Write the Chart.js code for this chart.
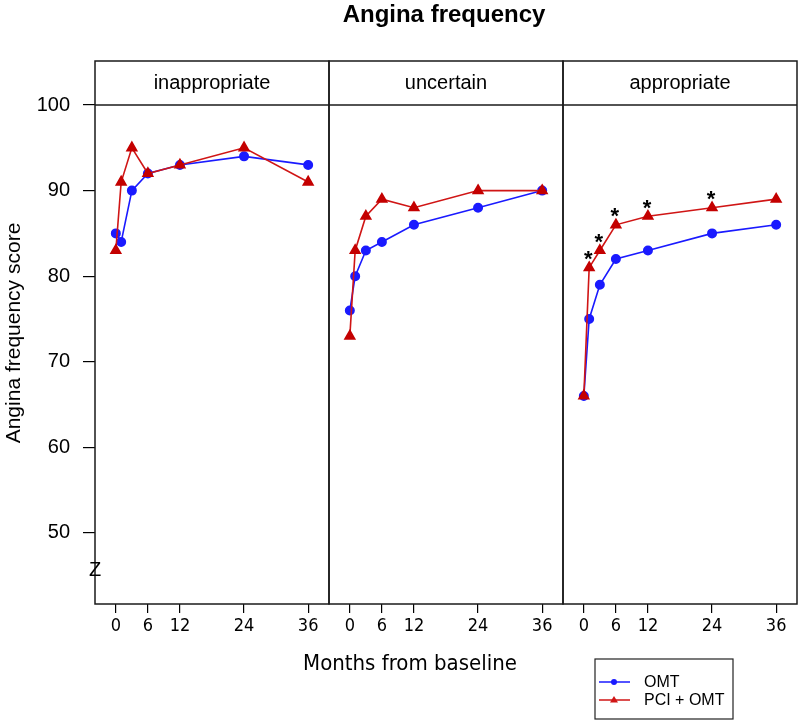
<!DOCTYPE html>
<html><head><meta charset="utf-8">
<script src="https://cdn.jsdelivr.net/npm/chart.js@4.4.1/dist/chart.umd.min.js"></script>
<style>
body{margin:0;background:#fff;}
#wrap{position:relative;width:800px;height:720px;overflow:hidden;background:#fff;font-family:'Liberation Sans',Arial,sans-serif;color:#000}
canvas{position:absolute;top:0}
.t{position:absolute;white-space:nowrap;text-align:center;z-index:5}
</style></head><body><div id="wrap">
<canvas id="c1" width="339" height="720" style="left:0;width:339px;height:720px"></canvas>
<canvas id="c2" width="254" height="720" style="left:319px;width:254px;height:720px"></canvas>
<canvas id="c3" width="257" height="720" style="left:553px;width:257px;height:720px"></canvas>
<div class="t" id="title" style="left:244px;top:1px;width:400px;line-height:26px;font-size:24px;font-weight:bold;">Angina frequency</div>
<div class="t" id="xtitle" style="left:210px;top:651px;width:400px;line-height:24px;font-size:22px;font-family:'Liberation Sans Narrow','Arial Narrow','DejaVu Sans Condensed',sans-serif;">Months from baseline</div>
<div class="t" id="ytitle" style="left:-137px;top:322px;width:300px;line-height:22px;font-size:21px;transform:rotate(-90deg);">Angina frequency score</div>
<div class="t" id="zmark" style="left:85px;top:558px;width:20px;line-height:22px;font-size:20px;">Z</div>
</div>
<script>
// ---- data ----
const months = [0, 1, 3, 6, 12, 24, 36];
const panelNames = ['inappropriate', 'uncertain', 'appropriate'];
const seriesNames = ['OMT', 'PCI + OMT'];
const omtInappropriate = [85, 84, 90, 92, 93, 94, 93];
const pciInappropriate = [83, 91, 95, 92, 93, 95, 91];
const omtUncertain     = [76, 80, 83, 84, 86, 88, 90];
const pciUncertain     = [73, 83, 87, 89, 88, 90, 90];
const omtAppropriate   = [66, 75, 79, 82, 83, 85, 86];
const pciAppropriate   = [66, 81, 83, 86, 87, 88, 89];
const starMonthsAppropriate = [1, 3, 6, 12, 24];
const xTicks = [0, 6, 12, 24, 36];
const yTicks = [50, 60, 70, 80, 90, 100];

// ---- styling ----
const NARROW = "'Liberation Sans Narrow','Arial Narrow','DejaVu Sans Condensed',sans-serif";
const SANS = "'Liberation Sans',Arial,sans-serif";
const BLUE = '#1a1aff', RED = '#d01515', RED_PT = '#c40000';
const STRIP_TOP = 61;

const panelPlugin = {
  id: 'panelFrame',
  afterDraw(chart, args, o) {
    const ctx = chart.ctx, ca = chart.chartArea;
    ctx.save();
    ctx.strokeStyle = '#1a1a1a';
    ctx.lineWidth = 1.5;
    ctx.strokeRect(ca.left, STRIP_TOP, ca.right - ca.left, ca.bottom - STRIP_TOP);
    ctx.beginPath(); ctx.moveTo(ca.left, ca.top); ctx.lineTo(ca.right, ca.top); ctx.stroke();
    ctx.fillStyle = '#000';
    ctx.font = '20px ' + SANS;
    ctx.textAlign = 'center'; ctx.textBaseline = 'middle';
    ctx.fillText(o.label, (ca.left + ca.right) / 2, (STRIP_TOP + ca.top) / 2);
    if (o.stars) {
      const xs = chart.scales.x, ys = chart.scales.y;
      ctx.font = 'bold 22px ' + SANS;
      ctx.textBaseline = 'alphabetic';
      o.stars.months.forEach(m => {
        const i = months.indexOf(m);
        const px = xs.getPixelForValue(m) - 1;
        const py = ys.getPixelForValue(o.stars.values[i]) - 14;
        ctx.fillText('*', px, py + 12.5);
      });
    }
    if (o.legend) {
      const off = chart.canvas.offsetLeft;
      const L = 595 - off, R = 733 - off, T = 659, B = 719;
      ctx.lineWidth = 1.2; ctx.strokeStyle = '#222';
      ctx.strokeRect(L, T, R - L, B - T);
      const rows = [{y: 682, c: BLUE, shape: 'circle'}, {y: 700, c: RED, shape: 'tri'}];
      ctx.font = '16px ' + SANS; ctx.textAlign = 'left'; ctx.textBaseline = 'middle';
      rows.forEach((r, k) => {
        ctx.strokeStyle = r.c; ctx.lineWidth = 1.5;
        ctx.beginPath(); ctx.moveTo(599 - off, r.y); ctx.lineTo(630 - off, r.y); ctx.stroke();
        ctx.fillStyle = r.c;
        ctx.beginPath();
        if (r.shape === 'circle') { ctx.arc(614 - off, r.y, 3, 0, Math.PI * 2); }
        else { ctx.moveTo(614 - off, r.y - 4); ctx.lineTo(618 - off, r.y + 2.5); ctx.lineTo(610 - off, r.y + 2.5); ctx.closePath(); }
        ctx.fill();
        ctx.fillStyle = '#000';
        ctx.fillText(seriesNames[k], 644 - off, r.y + 1);
      });
    }
    ctx.restore();
  }
};

function makePanel(id, name, omt, pci, cfg) {
  const pts = arr => months.map((m, i) => ({x: m, y: arr[i]}));
  return new Chart(document.getElementById(id), {
    type: 'line',
    data: {
      datasets: [
        {label: seriesNames[0], data: pts(omt), borderColor: BLUE, backgroundColor: BLUE,
         pointBackgroundColor: BLUE, pointBorderColor: BLUE, pointStyle: 'circle', pointRadius: 4.2,
         borderWidth: 1.6, tension: 0, order: 2, clip: false},
        {label: seriesNames[1], data: pts(pci), borderColor: RED, backgroundColor: RED_PT,
         pointBackgroundColor: RED_PT, pointBorderColor: RED_PT, pointStyle: 'triangle', pointRadius: 5.6,
         borderWidth: 1.6, tension: 0, order: 1, clip: false}
      ]
    },
    options: {
      responsive: false, animation: false, devicePixelRatio: 1,
      layout: {padding: {top: 105, bottom: 0, left: cfg.padL, right: cfg.padR}},
      plugins: {
        legend: {display: false}, tooltip: {enabled: false},
        panelFrame: {label: name, stars: cfg.stars || null, legend: !!cfg.legend}
      },
      scales: {
        x: {
          type: 'linear', min: -3.9, max: 39.9,
          afterBuildTicks: s => { s.ticks = xTicks.map(v => ({value: v})); },
          afterFit: s => { s.height = 116; },
          grid: {drawOnChartArea: false, drawTicks: true, tickLength: 9, color: '#000', lineWidth: 1.2},
          border: {display: false},
          ticks: {font: {family: NARROW, size: 18}, color: '#000', padding: 3, maxRotation: 0, autoSkip: false}
        },
        y: {
          display: cfg.showY, min: 41.7, max: 100,
          afterBuildTicks: s => { s.ticks = yTicks.map(v => ({value: v})); },
          afterFit: s => { if (cfg.showY) s.width = 95; },
          grid: {drawOnChartArea: false, drawTicks: true, tickLength: 12, color: '#000', lineWidth: 1.2},
          border: {display: false},
          ticks: {font: {family: SANS, size: 20}, color: '#000', padding: 13}
        }
      }
    },
    plugins: [panelPlugin]
  });
}

makePanel('c1', panelNames[0], omtInappropriate, pciInappropriate, {padL: 0, padR: 10, showY: true});
makePanel('c2', panelNames[1], omtUncertain, pciUncertain, {padL: 10, padR: 10, showY: false});
makePanel('c3', panelNames[2], omtAppropriate, pciAppropriate, {padL: 10, padR: 13, showY: false,
  stars: {months: starMonthsAppropriate, values: pciAppropriate}, legend: true});
</script>
</body></html>
